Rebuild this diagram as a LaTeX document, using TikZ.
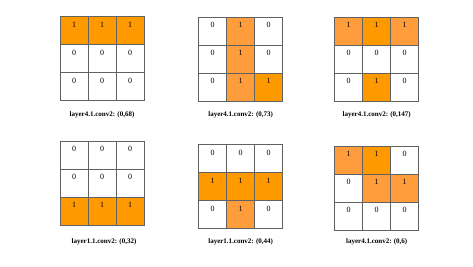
\documentclass[tikz,border=0pt]{standalone}
\usepackage{fontspec}
\setmainfont{Liberation Serif}
\usetikzlibrary{positioning}
\definecolor{orD}{HTML}{FF9900}
\definecolor{orL}{HTML}{FF9D3C}
\tikzset{every picture/.style={line width=0.7pt},
  cell/.style={draw=black!62, minimum size=28pt, inner sep=0pt, outer sep=0pt, anchor=north west},
  digit/.style={font=\fontsize{8}{9}\selectfont, inner sep=0pt, anchor=north, yshift=-5pt},
  caption/.style={font=\bfseries\fontsize{7}{8}\selectfont}}

\begin{document}
\begin{tikzpicture}[x=1pt,y=-1pt]
    \useasboundingbox (0,0) rectangle (473,266);

    % layer4.1.conv2 (0,68)
    \foreach \v/\c [count=\i from 0] in {1/orD,1/orD,1/orD,0/white,0/white,0/white,0/white,0/white,0/white} {
        \pgfmathtruncatemacro\r{\i/3}\pgfmathtruncatemacro\k{mod(\i,3)}
        \node[cell, fill=\c, label={[digit]north:\v}] (a\i) at (60+28*\k,16.5+28*\r) {};
    }
    \node[caption] (capA) at (102,115) {layer4.1.conv2: (0,68)};

    % layer4.1.conv2 (0,73)
    \foreach \v/\c [count=\i from 0] in {0/white,1/orL,0/white,0/white,1/orL,0/white,0/white,1/orL,1/orD} {
        \pgfmathtruncatemacro\r{\i/3}\pgfmathtruncatemacro\k{mod(\i,3)}
        \node[cell, fill=\c, label={[digit]north:\v}] (b\i) at (198.7+28*\k,17.3+28*\r) {};
    }
    \node[caption] (capB) at (240.7,115) {layer4.1.conv2: (0,73)};

    % layer4.1.conv2 (0,147)
    \foreach \v/\c [count=\i from 0] in {1/orL,1/orD,1/orL,0/white,0/white,0/white,0/white,1/orD,0/white} {
        \pgfmathtruncatemacro\r{\i/3}\pgfmathtruncatemacro\k{mod(\i,3)}
        \node[cell, fill=\c, label={[digit]north:\v}] (c\i) at (334.7+28*\k,17+28*\r) {};
    }
    \node[caption] (capC) at (376.7,115) {layer4.1.conv2: (0,147)};

    % layer1.1.conv2 (0,32)
    \foreach \v/\c [count=\i from 0] in {0/white,0/white,0/white,0/white,0/white,0/white,1/orD,1/orD,1/orD} {
        \pgfmathtruncatemacro\r{\i/3}\pgfmathtruncatemacro\k{mod(\i,3)}
        \node[cell, fill=\c, label={[digit]north:\v}] (d\i) at (60+28*\k,141.3+28*\r) {};
    }
    \node[caption] (capD) at (104,241.7) {layer1.1.conv2: (0,32)};

    % layer1.1.conv2 (0,44)
    \foreach \v/\c [count=\i from 0] in {0/white,0/white,0/white,1/orD,1/orD,1/orD,0/white,1/orL,0/white} {
        \pgfmathtruncatemacro\r{\i/3}\pgfmathtruncatemacro\k{mod(\i,3)}
        \node[cell, fill=\c, label={[digit]north:\v}] (e\i) at (198.7+28*\k,144.7+28*\r) {};
    }
    \node[caption] (capE) at (240.7,241.7) {layer1.1.conv2: (0,44)};

    % layer4.1.conv2 (0,6)
    \foreach \v/\c [count=\i from 0] in {1/orL,1/orD,0/white,0/white,1/orL,1/orL,0/white,0/white,0/white} {
        \pgfmathtruncatemacro\r{\i/3}\pgfmathtruncatemacro\k{mod(\i,3)}
        \node[cell, fill=\c, label={[digit]north:\v}] (f\i) at (334.7+28*\k,146.3+28*\r) {};
    }
    \node[caption] (capF) at (376.7,241.7) {layer4.1.conv2: (0,6)};
\end{tikzpicture}
\end{document}
